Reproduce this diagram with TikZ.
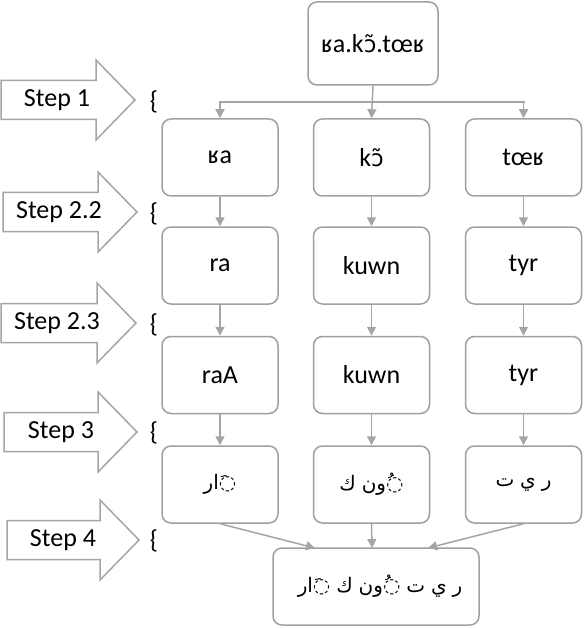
\documentclass[tikz,border=0pt]{standalone}
\usepackage{fontspec}
\setmainfont{Carlito}
\newfontfamily\arabicfont[Script=Arabic]{DejaVu Sans}
\newfontfamily\ipafont{DejaVu Sans}
\usetikzlibrary{arrows.meta}
\definecolor{boxgray}{RGB}{160,160,160}
\definecolor{linegray}{RGB}{165,165,165}
\newcommand\ag[1]{\hbox{\arabicfont\fontsize{20}{24}\selectfont #1}}
\newcommand\otil{{\ipafont\fontsize{23}{26}\selectfont ɔ̃}}
\begin{document}
\begin{tikzpicture}[x=1pt,y=-1pt,
  box/.style={draw=boxgray, line width=1.5pt, rounded corners=9pt, fill=white,
    minimum width=116pt, minimum height=77pt, inner sep=0pt,
    font=\fontsize{26}{30}\selectfont},
  conn/.style={draw=linegray, line width=1.5pt, -{Triangle[width=9pt,length=9pt]}},
  plainline/.style={draw=linegray, line width=1.5pt},
  stepshape/.style={draw=linegray, line width=1.5pt, fill=white, line join=miter},
  steptext/.style={inner sep=0pt, font=\fontsize{26}{30}\selectfont},
  bracetext/.style={inner sep=0pt, font=\fontsize{26}{30}\selectfont}]
\useasboundingbox (0,0) rectangle (584,628);

% step arrows
\foreach \i/\l/\t/\y/\tx/\lab in {1/1/135/100/57/Step 1, 2/3/137/212/59/Step 2.2, 3/1/136/323/57/Step 2.3, 4/4/137/432/61/Step 3, 5/7/139/540/63/Step 4}{
  \pgfmathsetmacro\hb{\t-39}
  \draw[stepshape] (\l,\y-19.5) -- (\hb,\y-19.5) -- (\hb,\y-40) -- (\t,\y) -- (\hb,\y+40) -- (\hb,\y+19.5) -- (\l,\y+19.5) -- cycle;
  \node[steptext] (step\i) at (\tx,\y) {\lab};
}
% braces
\foreach \i/\y in {1/102, 2/214, 3/325, 4/433, 5/541}{
  \node[bracetext] (brace\i) at (154,\y) {\{};
}

% boxes
\node[box, minimum width=130pt, minimum height=83pt] (top) at (373,43.5) {ʁa.k\otil.tœʁ};
\node[box] (r1a) at (220,157.5) {ʁa};
\node[box] (r1b) at (371.5,157.5) {k\otil};
\node[box] (r1c) at (523.5,157.5) {tœʁ};
\node[box] (r2a) at (220,265.5) {ra};
\node[box] (r2b) at (371.5,265.5) {kuwn};
\node[box] (r2c) at (523.5,265.5) {tyr};
\node[box] (r3a) at (220,375) {raA};
\node[box] (r3b) at (371.5,375) {kuwn};
\node[box] (r3c) at (523.5,375) {tyr};
\node[box] (r4a) at (220,484.5) {\ag{ر}\ag{ا}\ag{◌َ}};
\node[box] (r4b) at (371.5,484.5) {\ag{ك}\ \ag{ن}\ag{و}\ag{◌ُ}};
\node[box] (r4c) at (523.5,484.5) {\ag{ت}\ \ag{ي}\ \ag{ر}};
\node[box, minimum width=206pt] (fin) at (376,586.5)
  {\hspace*{8pt}\ag{ر}\ag{ا}\ag{◌َ}\ \ag{ك}\ \ag{ن}\ag{و}\ag{◌ُ}\ \ag{ت}\ \ag{ي}\ \ag{ر}};

% connectors
\coordinate (split) at (373,102);
\draw[plainline] (220,102) -- (525,102);
\draw[conn] (top.south) -- (r1b.north);
\draw[conn] (split) -| (r1a.north);
\draw[conn] (split) -| (r1c.north);
\foreach \c in {a,b,c}{
  \draw[conn] (r1\c.south) -- (r2\c.north);
  \draw[conn] (r2\c.south) -- (r3\c.north);
  \draw[conn] (r3\c.south) -- (r4\c.north);
}
\coordinate (fin1) at (315,548);
\coordinate (fin2) at (372,548);
\coordinate (fin3) at (428,548);
\draw[conn] (r4a.south) -- (fin1);
\draw[conn] (r4b.south) -- (fin2);
\draw[conn] (r4c.south) -- (fin3);
\end{tikzpicture}
\end{document}
